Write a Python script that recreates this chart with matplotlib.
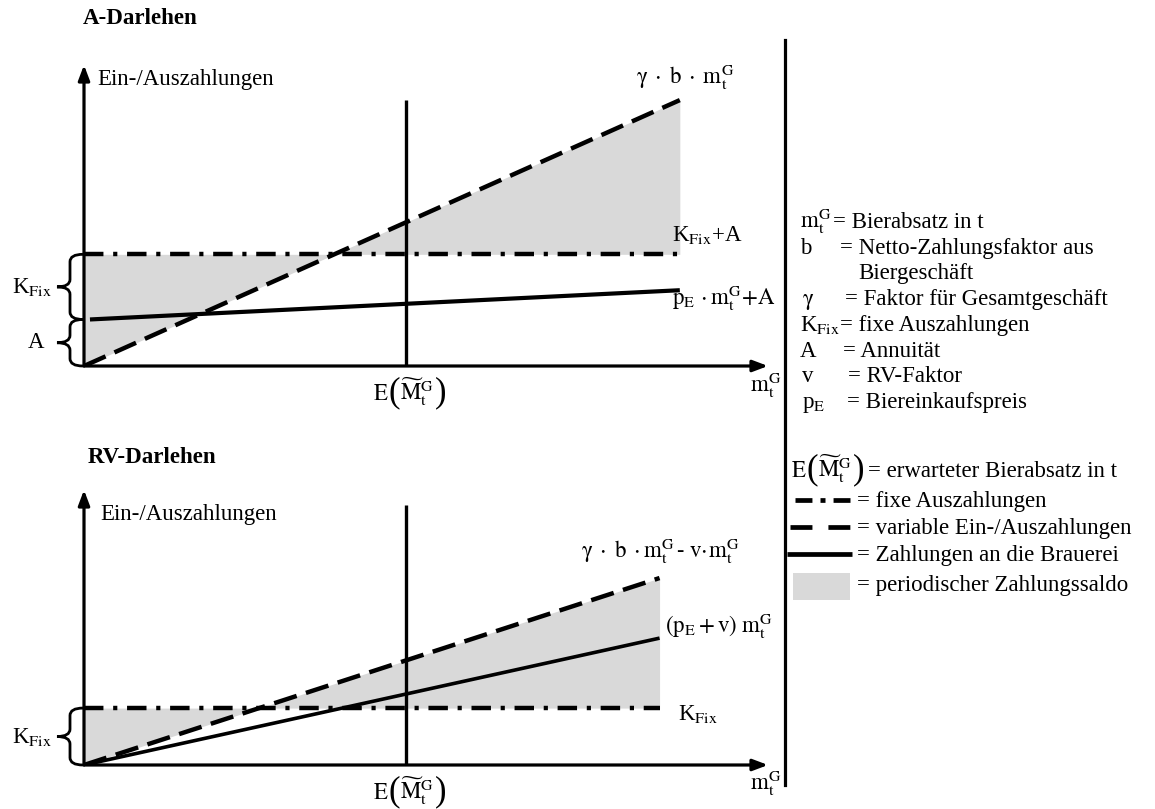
import numpy as np
import matplotlib
matplotlib.use('Agg')
import matplotlib.pyplot as plt
from matplotlib.path import Path
from matplotlib.patches import PathPatch, Rectangle
from matplotlib.lines import Line2D
import matplotlib.transforms as mtransforms

plt.rcParams['font.family'] = ['Liberation Serif', 'DejaVu Serif']
plt.rcParams['mathtext.fontset'] = 'stix'
plt.rcParams['lines.scale_dashes'] = False

# ---------------- data (conceptual units) ----------------
# A-Darlehen
a_x = [0, 10]
a_variable = [0, 10]            # gamma * b * m
a_fixed = [4.2, 4.2]            # K_Fix + A
a_brewery_x = [0.1, 10]
a_brewery = [1.75, 2.85]        # p_E * m + A
a_annuity = 1.75
a_kfix_top = 4.2
a_expected = 5.4
a_expected_line = [0, 10]

# RV-Darlehen
rv_x = [0, 9.66]
rv_variable = [0, 7.03]         # gamma*b*m - v*m
rv_fixed = [2.14, 2.14]         # K_Fix
rv_brewery = [0, 4.77]          # (p_E + v) m
rv_kfix = 2.14
rv_expected = 5.4
rv_expected_line = [0, 9.77]

# axis extents
x_max = 11.48
a_y_max = 11.32
rv_y_max = 10.34

W, H = 1155, 809
fig = plt.figure(figsize=(W / 100, H / 100), dpi=100)
renderer = fig.canvas.get_renderer()
FS = 16.5
GREY = '#d9d9d9'
DASH = (0, (17, 7))
DASHDOT = (0, (14, 7, 3, 7))


def fx(px):
    return px / W


def fy(py):
    return 1 - py / H


def make_axes(ox, oy, tx, ty, ymax):
    ax = fig.add_axes([fx(ox), fy(oy), (tx - ox) / W, (oy - ty) / H])
    ax.set_xlim(0, x_max)
    ax.set_ylim(0, ymax)
    ax.axis('off')
    return ax


def arrows(ax, ymax):
    kw = dict(arrowstyle='-|>,head_length=0.45,head_width=0.17', lw=2.3,
              color='k', shrinkA=0, shrinkB=0, mutation_scale=20)
    ax.annotate('', xy=(x_max, 0), xytext=(0, 0), arrowprops=kw,
                annotation_clip=False, zorder=5)
    ax.annotate('', xy=(0, ymax), xytext=(0, 0), arrowprops=kw,
                annotation_clip=False, zorder=5)


def brace(ax, y0, y1, axw_px=684.0, r=0.28):
    trans = mtransforms.blended_transform_factory(ax.transAxes, ax.transData)
    xr, xs, xt = -1 / axw_px, -14 / axw_px, -27 / axw_px
    ym = (y0 + y1) / 2
    verts = [(xr, y1), (xs, y1), (xs, y1 - r), (xs, ym + r), (xs, ym), (xt, ym),
             (xs, ym), (xs, ym - r), (xs, y0 + r), (xs, y0), (xr, y0)]
    codes = [Path.MOVETO, Path.CURVE3, Path.CURVE3, Path.LINETO, Path.CURVE3,
             Path.CURVE3, Path.CURVE3, Path.CURVE3, Path.LINETO, Path.CURVE3,
             Path.CURVE3]
    ax.add_patch(PathPatch(Path(verts, codes), fill=False, lw=2.0,
                           edgecolor='k', transform=trans, clip_on=False,
                           zorder=5))
    return trans


def side_label(ax, trans, y, text, xoff_px, axw_px=684.0):
    ax.text(-xoff_px / axw_px, y, text, transform=trans, ha='right',
            va='center', fontsize=FS)


# ---------------- top panel ----------------
ax1 = make_axes(84, 366, 768, 65, a_y_max)
ax1.fill_between(a_x, a_variable, a_fixed, color=GREY, lw=0, zorder=1)
ax1.plot(a_x, a_fixed, color='k', lw=3.2, linestyle=DASHDOT, zorder=2)
ax1.plot(a_x, a_variable, color='k', lw=3.2, linestyle=DASH, zorder=2)
ax1.plot(a_brewery_x, a_brewery, color='k', lw=3.0, solid_capstyle='butt',
         zorder=3)
ax1.plot([a_expected, a_expected], a_expected_line, color='k', lw=2.4,
         solid_capstyle='butt', zorder=4)
arrows(ax1, a_y_max)
t1 = brace(ax1, 0, a_annuity)
brace(ax1, a_annuity, a_kfix_top)
side_label(ax1, t1, (a_annuity + a_kfix_top) / 2, r'K$_{\mathrm{Fix}}$', 32)
side_label(ax1, t1, a_annuity / 2, 'A', 40)

# ---------------- bottom panel ----------------
ax2 = make_axes(84, 765, 768, 490, rv_y_max)
ax2.fill_between(rv_x, rv_variable, rv_fixed, color=GREY, lw=0, zorder=1)
ax2.plot(rv_x, rv_fixed, color='k', lw=3.2, linestyle=DASHDOT, zorder=2)
ax2.plot(rv_x, rv_variable, color='k', lw=3.2, linestyle=DASH, zorder=2)
ax2.plot(rv_x, rv_brewery, color='k', lw=2.6, solid_capstyle='butt', zorder=3)
ax2.plot([rv_expected, rv_expected], rv_expected_line, color='k', lw=2.4,
         solid_capstyle='butt', zorder=4)
arrows(ax2, rv_y_max)
t2 = brace(ax2, 0, rv_kfix)
side_label(ax2, t2, rv_kfix / 2, r'K$_{\mathrm{Fix}}$', 32)

# ---------------- texts (figure pixel positions) ----------------
def T(x, y, s, ha='left', va='baseline', **kw):
    return fig.text(fx(x), fy(y), s, ha=ha, va=va,
                    fontsize=kw.pop('fs', FS), **kw)

mtG = r'\mathrm{m}_{\mathrm{t}}^{\mathrm{G}}'


def right_edge(t):
    return t.get_window_extent(renderer).x1


def em_label(x0, b):
    """E( M~_t^G ) composed of adjacent text pieces; x0 left edge, b baseline."""
    t = T(x0, b, r'$\mathrm{E}$')
    x = right_edge(t)
    t = T(x, b + 1, '(', fs=25)
    x = right_edge(t)
    t = T(x, b, r'$\widetilde{\mathrm{M}}_{\mathrm{t}}^{\mathrm{G}}$')
    x = right_edge(t)
    t = T(x + 1, b + 1, ')', fs=25)
    return right_edge(t)


T(83, 24, 'A-Darlehen', fontweight='bold')
T(97, 85, 'Ein-/Auszahlungen')
T(685, 84, r'$\mathrm{\gamma}\;\cdot\;\mathrm{b}\;\cdot\;' + mtG + '$', ha='center')
T(672, 241, r'K$_{\mathrm{Fix}}$+A')
T(672, 305, r'$\mathrm{p}_{\mathrm{E}}\,\cdot' + mtG + r'\!+\!\mathrm{A}$')
em_label(373, 400)
T(750, 392, '$' + mtG + '$')

T(88, 463, 'RV-Darlehen', fontweight='bold')
T(100, 520, 'Ein-/Auszahlungen')
T(660, 558, r'$\mathrm{\gamma}\;\cdot\;\mathrm{b}\;\cdot' + mtG +
  r'\,\text{-}\;\mathrm{v}\!\cdot\!' + mtG + '$', ha='center')
T(665, 633, r'$(\mathrm{p}_{\mathrm{E}}+\mathrm{v})\;' + mtG + '$')
T(678, 720, r'K$_{\mathrm{Fix}}$')
em_label(373, 799)
T(750, 790, '$' + mtG + '$')

# separator
fig.add_artist(Line2D([fx(785), fx(785)], [fy(40), fy(785)], color='k',
                      lw=2.3, transform=fig.transFigure))

# legend group 1
rows = [
    ('$' + mtG + '$', 800, '= Bierabsatz in t', 833),
    ('b', 800, '= Netto-Zahlungsfaktor aus', 840),
    ('', 800, 'Biergeschäft', 858),
    (r'$\mathrm{\gamma}$', 802, '= Faktor für Gesamtgeschäft', 845),
    (r'K$_{\mathrm{Fix}}$', 800, '= fixe Auszahlungen', 840),
    ('A', 800, '= Annuität', 843),
    ('v', 802, '= RV-Faktor', 848),
    (r'p$_{\mathrm{E}}$', 802, '= Biereinkaufspreis', 847),
]
row_y = [228, 254, 279, 305, 331, 357, 382, 408]
for (sym, xs, txt, xt), y in zip(rows, row_y):
    if sym:
        T(xs, y, sym)
    T(xt, y, txt)

# legend group 2
xe = em_label(791, 477)
T(max(857, xe + 3), 477, '= erwarteter Bierabsatz in t')
fig.add_artist(Line2D([fx(795), fx(850)], [fy(500)] * 2, color='k', lw=3.4,
                      linestyle=(0, (12.2, 5.8, 3.6, 5.8)),
                      transform=fig.transFigure))
T(857, 507, '= fixe Auszahlungen')
fig.add_artist(Line2D([fx(790), fx(850)], [fy(527)] * 2, color='k', lw=3.4,
                      linestyle=(0, (15.8, 11.5)), transform=fig.transFigure))
T(857, 534, '= variable Ein-/Auszahlungen')
fig.add_artist(Line2D([fx(787), fx(852)], [fy(554)] * 2, color='k', lw=3.4,
                      solid_capstyle='butt', transform=fig.transFigure))
T(857, 561, '= Zahlungen an die Brauerei')
fig.add_artist(Rectangle((fx(793), fy(600)), 57 / W, 27 / H, facecolor=GREY,
                         edgecolor='none', transform=fig.transFigure))
T(857, 591, '= periodischer Zahlungssaldo')

fig.savefig('out.png', dpi=100)
